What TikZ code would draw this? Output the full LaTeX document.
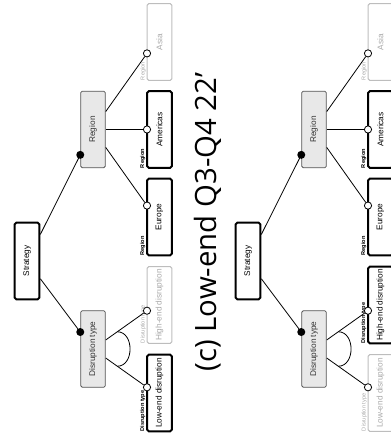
\documentclass[tikz,border=0pt]{standalone}
\usepackage{fontspec}
\setmainfont{Liberation Sans}
\newfontfamily\capfont{Open Sans}
\usetikzlibrary{calc}
\definecolor{boxfill}{HTML}{E8E8E8}
\definecolor{boxedge}{HTML}{555555}
\definecolor{dimedge}{HTML}{BDBDBD}
\definecolor{dimtext}{HTML}{A8A8A8}
\begin{document}
\begin{tikzpicture}[x=0.75pt,y=0.75pt,
  base/.style={rectangle, rounded corners=1.2pt, minimum width=57.5pt, minimum height=18.5pt,
    inner sep=0pt, align=center, font=\fontsize{6.2}{7}\selectfont},
  sel/.style={base, draw=black, line width=1.5pt},
  dim/.style={base, draw=dimedge, line width=0.75pt, text=dimtext},
  par/.style={base, draw=boxedge, fill=boxfill, line width=0.6pt, text=black!80},
  opencirc/.style={circle, draw=black, fill=white, line width=0.6pt, minimum size=5.4pt, inner sep=0pt},
  blackdot/.style={circle, fill=black, minimum size=6pt, inner sep=0pt},
  lab/.style={anchor=south west, inner sep=0.4pt, font=\fontsize{4.2}{5}\selectfont\bfseries},
  dimlab/.style={anchor=south west, inner sep=0.4pt, font=\fontsize{4.2}{5}\selectfont, text=dimtext},
  link/.style={draw=black, line width=0.6pt}]
\useasboundingbox (0,0) rectangle (391,441);
\begin{scope}[rotate=90, transform shape]
% ---------- left tree ----------
\node[sel] (Lstrat) at (180,-27) {Strategy};
\node[par] (Ldis) at (92,-93) {Disruption type};
\node[par] (Lreg) at (311.5,-93) {Region};
\node[sel] (Llow) at (48,-159.5) {Low-end disruption};
\node[dim] (Lhigh) at (136,-159.5) {High-end disruption};
\node[sel] (Leur) at (224,-159.5) {Europe};
\node[sel] (Lame) at (311.5,-159.5) {Americas};
\node[dim] (Lasia) at (399,-159.5) {Asia};
\node[lab] (Lllow) at (Llow.north west) {Disruption type};
\node[dimlab] (Llhigh) at (Lhigh.north west) {Disruption type};
\node[lab] (Lleur) at (Leur.north west) {Region};
\node[lab] (Llame) at (Lame.north west) {Region};
\node[dimlab] (Llasia) at (Lasia.north west) {Region};
\node[opencirc] (Lclow) at (53.7,-147) {};
\node[opencirc] (Lchigh) at (130.3,-147) {};
\node[opencirc] (Lceur) at (235.4,-147) {};
\node[opencirc] (Lcame) at (311.5,-147) {};
\node[opencirc] (Lcasia) at (387.6,-147) {};
\draw[link] (Lstrat) -- (Ldis) node[pos=1, blackdot] (Ldotd) {};
\draw[link] (Lstrat) -- (Lreg) node[pos=1, blackdot] (Ldotr) {};
\draw[link] (Ldis) -- (Lclow);
\draw[link] (Ldis) -- (Lchigh);
\draw[link] (Lreg) -- (Lceur);
\draw[link] (Lreg) -- (Lcame);
\draw[link] (Lreg) -- (Lcasia);
\coordinate (LarcA) at ($(Ldis.center)!0.45!(Lchigh)$);
\coordinate (LarcB) at ($(Ldis.center)!0.45!(Lclow)$);
\draw[link] (LarcA) .. controls ($(LarcA)+(0,-17)$) and ($(LarcB)+(0,-17)$) .. (LarcB);
% ---------- caption ----------
\node[font=\capfont\fontsize{22}{26}\selectfont, anchor=base, inner sep=0pt] (cap) at (219,-216) {(c) Low-end Q3-Q4 22’};
% ---------- right tree ----------
\node[sel] (Rstrat) at (180,-248) {Strategy};
\node[par] (Rdis) at (92,-314) {Disruption type};
\node[par] (Rreg) at (311.5,-314) {Region};
\node[dim] (Rlow) at (48,-380.5) {Low-end disruption};
\node[sel] (Rhigh) at (136,-380.5) {High-end disruption};
\node[sel] (Reur) at (224,-380.5) {Europe};
\node[sel] (Rame) at (311.5,-380.5) {Americas};
\node[dim] (Rasia) at (399,-380.5) {Asia};
\node[dimlab] (Rllow) at (Rlow.north west) {Disruption type};
\node[lab] (Rlhigh) at (Rhigh.north west) {Disruption type};
\node[lab] (Rleur) at (Reur.north west) {Region};
\node[lab] (Rlame) at (Rame.north west) {Region};
\node[dimlab] (Rlasia) at (Rasia.north west) {Region};
\node[opencirc] (Rclow) at (53.7,-368) {};
\node[opencirc] (Rchigh) at (130.3,-368) {};
\node[opencirc] (Rceur) at (235.4,-368) {};
\node[opencirc] (Rcame) at (311.5,-368) {};
\node[opencirc] (Rcasia) at (387.6,-368) {};
\draw[link] (Rstrat) -- (Rdis) node[pos=1, blackdot] (Rdotd) {};
\draw[link] (Rstrat) -- (Rreg) node[pos=1, blackdot] (Rdotr) {};
\draw[link] (Rdis) -- (Rclow);
\draw[link] (Rdis) -- (Rchigh);
\draw[link] (Rreg) -- (Rceur);
\draw[link] (Rreg) -- (Rcame);
\draw[link] (Rreg) -- (Rcasia);
\coordinate (RarcA) at ($(Rdis.center)!0.45!(Rchigh)$);
\coordinate (RarcB) at ($(Rdis.center)!0.45!(Rclow)$);
\draw[link] (RarcA) .. controls ($(RarcA)+(0,-17)$) and ($(RarcB)+(0,-17)$) .. (RarcB);
\end{scope}
\end{tikzpicture}
\end{document}
